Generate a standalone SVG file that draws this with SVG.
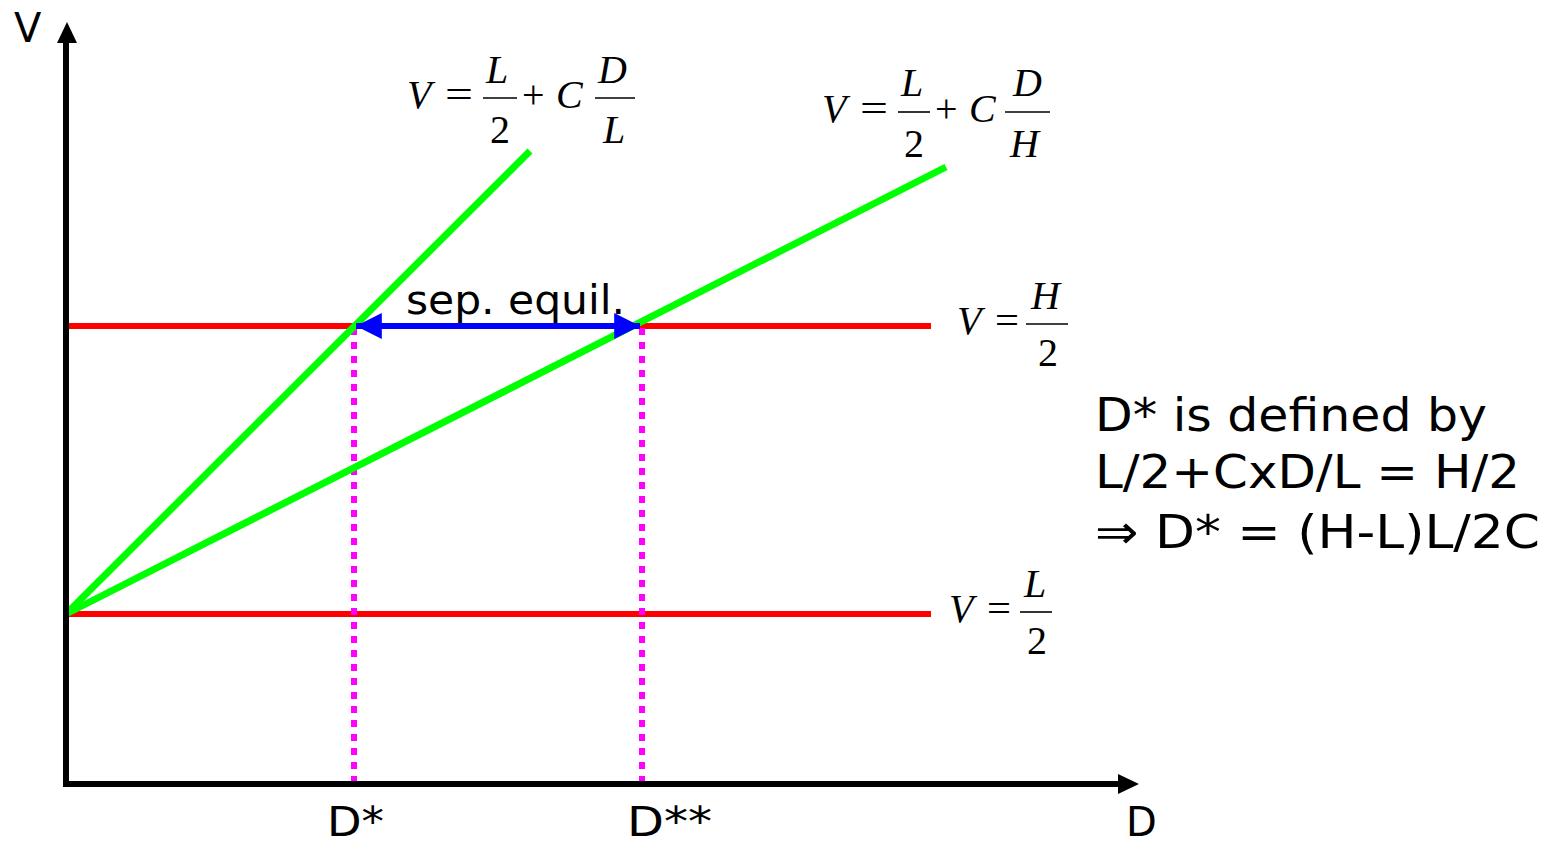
<svg xmlns="http://www.w3.org/2000/svg" width="1557" height="845" viewBox="0 0 1557 845">
<defs>
<style>
.lbl{font-family:"DejaVu Sans","Liberation Sans",sans-serif;fill:#000}
.eq{font-family:"Liberation Serif","Times New Roman",serif;font-size:40px;fill:#000}
.it{font-style:italic}
.bar{stroke:#000;stroke-width:1.6}
</style>
<marker id="bh" viewBox="0 0 10 10" refX="10" refY="5" markerWidth="4.3" markerHeight="4.3" orient="auto-start-reverse" markerUnits="strokeWidth"><path d="M0,0L10,5L0,10z" fill="#0000ff"/></marker>
</defs>
<rect width="1557" height="845" fill="#fff"/>
<g id="connectors">
<line x1="66" y1="326" x2="931" y2="326" stroke="#ff0000" stroke-width="6"/>
<line x1="66" y1="614" x2="931" y2="614" stroke="#ff0000" stroke-width="6"/>
<line x1="354" y1="328" x2="354" y2="784" stroke="#ff00ff" stroke-width="6" stroke-dasharray="7,7"/>
<line x1="642" y1="328" x2="642" y2="784" stroke="#ff00ff" stroke-width="6" stroke-dasharray="7,7"/>
<line x1="66" y1="614" x2="530" y2="151" stroke="#00ff00" stroke-width="7"/>
<line x1="66" y1="614" x2="946" y2="167" stroke="#00ff00" stroke-width="7"/>
<line x1="356" y1="326" x2="640" y2="326" stroke="#0000ff" stroke-width="6" marker-start="url(#bh)" marker-end="url(#bh)"/>
</g>
<g id="axes">
<line x1="66" y1="787" x2="66" y2="40" stroke="#000" stroke-width="6"/>
<path d="M67,22L77,43L57,43z" fill="#000"/>
<line x1="63" y1="784" x2="1120" y2="784" stroke="#000" stroke-width="6"/>
<path d="M1139,784L1118,774L1118,794z" fill="#000"/>
</g>
<g id="axis-labels">
<text class="lbl" x="14" y="42" font-size="40">V</text>
<text class="lbl" x="1126" y="836" font-size="40">D</text>
<text class="lbl" x="327" y="836" font-size="40" textLength="57" lengthAdjust="spacingAndGlyphs">D*</text>
<text class="lbl" x="627" y="836" font-size="40" textLength="85" lengthAdjust="spacingAndGlyphs">D**</text>
</g>
<g id="sep-label">
<text class="lbl" x="406" y="314" font-size="40" textLength="219" lengthAdjust="spacingAndGlyphs">sep. equil.</text>
</g>
<g id="eq-low-type">
<text class="eq it" x="407" y="108">V</text>
<text class="eq" x="445" y="108" textLength="28" lengthAdjust="spacingAndGlyphs">=</text>
<text class="eq it" x="486" y="83">L</text>
<line class="bar" x1="483" y1="98" x2="517" y2="98"/>
<text class="eq" x="490" y="143">2</text>
<text class="eq" x="522" y="108">+</text>
<text class="eq it" x="556" y="108">C</text>
<text class="eq it" x="598" y="83">D</text>
<line class="bar" x1="595" y1="98" x2="635" y2="98"/>
<text class="eq it" x="603" y="143">L</text>
</g>
<g id="eq-high-type">
<text class="eq it" x="822" y="122">V</text>
<text class="eq" x="860" y="122" textLength="28" lengthAdjust="spacingAndGlyphs">=</text>
<text class="eq it" x="901" y="96">L</text>
<line class="bar" x1="898" y1="112" x2="930" y2="112"/>
<text class="eq" x="904" y="157">2</text>
<text class="eq" x="935" y="122">+</text>
<text class="eq it" x="969" y="122">C</text>
<text class="eq it" x="1013" y="96">D</text>
<line class="bar" x1="1005" y1="112" x2="1050" y2="112"/>
<text class="eq it" x="1010" y="157">H</text>
</g>
<g id="eq-high-line">
<text class="eq it" x="957" y="334">V</text>
<text class="eq" x="995" y="334" textLength="24" lengthAdjust="spacingAndGlyphs">=</text>
<text class="eq it" x="1031" y="309">H</text>
<line class="bar" x1="1026" y1="324" x2="1068" y2="324"/>
<text class="eq" x="1038" y="366">2</text>
</g>
<g id="eq-low-line">
<text class="eq it" x="949" y="622">V</text>
<text class="eq" x="987" y="622" textLength="24" lengthAdjust="spacingAndGlyphs">=</text>
<text class="eq it" x="1024" y="597">L</text>
<line class="bar" x1="1020" y1="612" x2="1052" y2="612"/>
<text class="eq" x="1027" y="654">2</text>
</g>
<g id="note">
<text class="lbl" x="1095" y="431" font-size="46" textLength="392" lengthAdjust="spacingAndGlyphs">D* is defined by</text>
<text class="lbl" x="1095" y="488" font-size="46" textLength="425" lengthAdjust="spacingAndGlyphs">L/2+CxD/L = H/2</text>
<text class="lbl" x="1095" y="548" font-size="46" textLength="445" lengthAdjust="spacingAndGlyphs">⇒ D* = (H-L)L/2C</text>
</g>
</svg>
